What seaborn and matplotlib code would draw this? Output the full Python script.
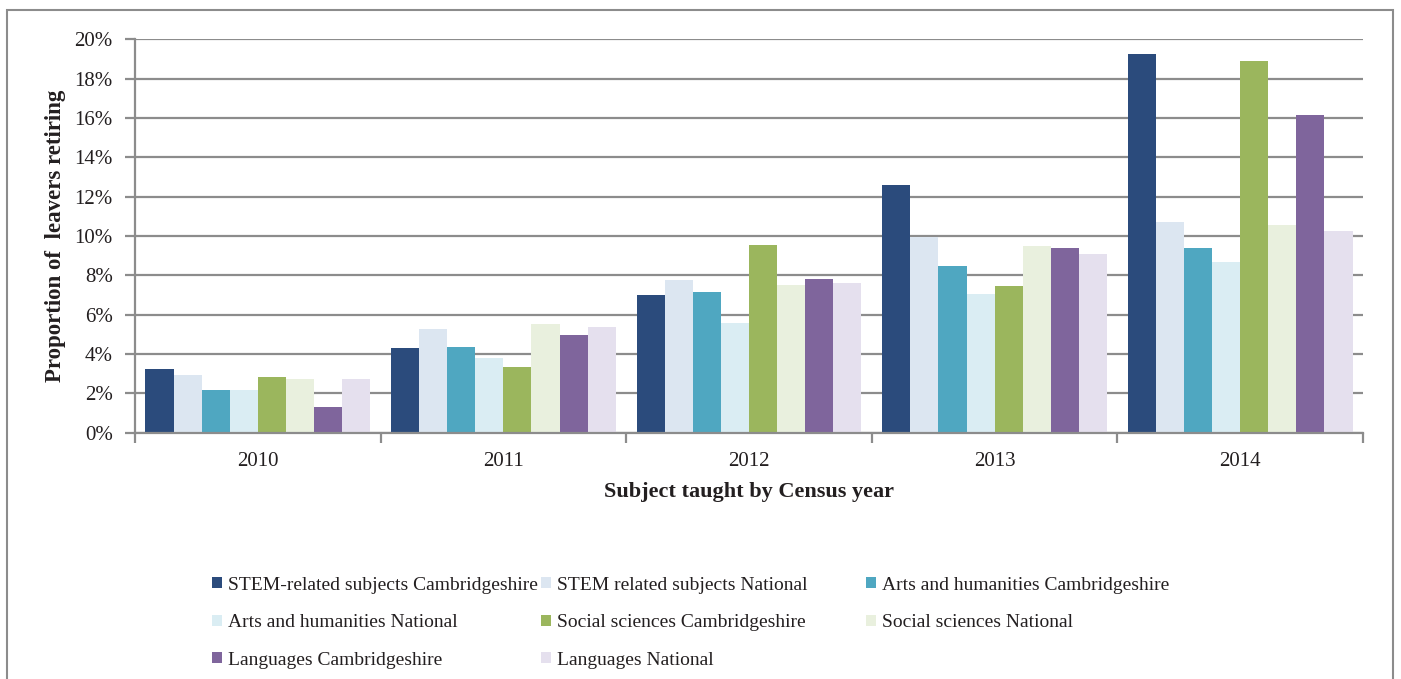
import numpy as np
import pandas as pd
import seaborn as sns
import matplotlib.pyplot as plt
from matplotlib.patches import Patch, Rectangle
from matplotlib.ticker import PercentFormatter, FixedLocator

# Census years (x categories)
years = ["2010", "2011", "2012", "2013", "2014"]

# Series names, in drawing order
series = [
    "STEM-related subjects Cambridgeshire",
    "STEM related subjects National",
    "Arts and humanities Cambridgeshire",
    "Arts and humanities National",
    "Social sciences Cambridgeshire",
    "Social sciences National",
    "Languages Cambridgeshire",
    "Languages National",
]

# Proportion of leavers retiring (%), one value per census year
stem_cam = [3.22, 4.31, 7.02, 12.59, 19.24]
stem_nat = [2.93, 5.27, 7.76, 9.93, 10.71]
arts_cam = [2.15, 4.37, 7.15, 8.49, 9.41]
arts_nat = [2.19, 3.80, 5.59, 7.05, 8.68]
soc_cam = [2.83, 3.36, 9.56, 7.46, 18.90]
soc_nat = [2.75, 5.53, 7.52, 9.51, 10.56]
lang_cam = [1.29, 4.98, 7.80, 9.41, 16.17]
lang_nat = [2.73, 5.36, 7.59, 9.09, 10.25]

colors = ["#2B4B7C", "#DCE6F1", "#4FA7C1", "#DAEDF3",
          "#9BB65D", "#E9F0DE", "#7F659C", "#E5E0EE"]

values = [stem_cam, stem_nat, arts_cam, arts_nat, soc_cam, soc_nat, lang_cam, lang_nat]
df = pd.DataFrame(
    [(y, s, v) for s, vals in zip(series, values) for y, v in zip(years, vals)],
    columns=["Year", "Series", "Value"],
)

sns.set_theme(style="white")
plt.rcParams["font.family"] = ["Liberation Serif", "DejaVu Serif"]

GRAY = "#8C8C8C"
TEXT = "#231F20"

fig = plt.figure(figsize=(14.01, 6.79), dpi=100)
ax = fig.add_axes([135 / 1401, 1 - 432.7 / 679, (1363 - 135) / 1401, (432.7 - 39.3) / 679])

sns.barplot(data=df, x="Year", y="Value", hue="Series", hue_order=series,
            palette=colors, width=0.915, saturation=1, errorbar=None,
            legend=False, ax=ax, linewidth=0)

ax.set_xlim(-0.5, 4.5)
ax.set_ylim(0, 20)
ax.yaxis.set_major_locator(FixedLocator(np.arange(0, 21, 2)))
ax.yaxis.set_major_formatter(PercentFormatter(decimals=0))
ax.yaxis.grid(True, color=GRAY, linewidth=1.6)
ax.set_axisbelow(True)

for side in ["top", "right"]:
    ax.spines[side].set_visible(False)
for side in ["left", "bottom"]:
    ax.spines[side].set_color(GRAY)
    ax.spines[side].set_linewidth(1.6)

ax.tick_params(axis="y", length=7, width=1.6, color=GRAY, pad=9,
               labelsize=15, labelcolor=TEXT, left=True)
ax.xaxis.set_minor_locator(FixedLocator(np.arange(-0.5, 5, 1)))
ax.tick_params(axis="x", which="major", length=0, pad=14, labelsize=15, labelcolor=TEXT)
ax.tick_params(axis="x", which="minor", length=7, width=1.6, color=GRAY, bottom=True)

ax.set_xlabel("Subject taught by Census year", fontsize=16, fontweight="bold",
              color=TEXT, labelpad=8)
ax.set_ylabel("Proportion of  leavers retiring", fontsize=16.5, fontweight="bold",
              color=TEXT, labelpad=6)

# Legend laid out row by row in three columns
handles = [Patch(facecolor=c, edgecolor="none") for c in colors]
col_x = [212, 541, 866]
for ci, x in enumerate(col_x):
    idx = list(range(ci, len(series), 3))
    fig.legend([handles[i] for i in idx], [series[i] for i in idx],
               loc="upper left", bbox_to_anchor=(x / 1401, 1 - 576.5 / 679),
               frameon=False, fontsize=14, handlelength=0.5, handleheight=0.5,
               handletextpad=0.3, labelspacing=1.06, borderpad=0, borderaxespad=0,
               labelcolor=TEXT)

# Outer chart frame
fig.patches.append(Rectangle((7 / 1401, -0.05), (1393 - 7) / 1401, 1.05 - 10 / 679,
                             transform=fig.transFigure, fill=False,
                             edgecolor=GRAY, linewidth=1.5))

fig.savefig("out.png", dpi=100)
